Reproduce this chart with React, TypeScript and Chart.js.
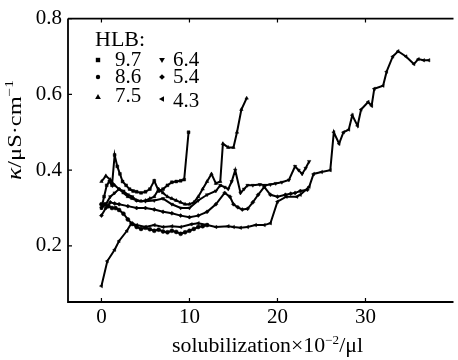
import React, { useEffect, useRef } from "react";
import { Chart, registerables } from "chart.js";

Chart.register(...registerables);

// ---- data ----
const xTickValues = [0, 10, 20, 30];
const yTickValues = [0.2, 0.4, 0.6, 0.8];
const hlbLabels = ["9.7", "8.6", "7.5", "6.4", "5.4", "4.3"];

const hlb97X = [0, 0.3, 0.6, 0.9, 1.2, 1.5, 1.8, 2.1, 2.4, 2.8, 3.2, 3.6, 4.0, 4.5, 5.0, 5.5, 6.0, 6.5, 7.0, 7.5, 8.0, 8.5, 9.0, 9.4, 9.9];
const hlb97Y = [0.30, 0.33, 0.36, 0.37, 0.36, 0.44, 0.41, 0.39, 0.37, 0.36, 0.35, 0.345, 0.343, 0.34, 0.343, 0.35, 0.372, 0.345, 0.35, 0.36, 0.368, 0.37, 0.372, 0.375, 0.50];

const hlb86X = [0, 0.4, 0.8, 1.2, 1.6, 2.0, 2.5, 3.0, 3.5, 4.0, 4.5, 5.0, 5.5, 6.0, 6.5, 7.0, 7.5, 8.0, 8.5, 9.0, 9.5, 10.0, 10.5, 11.0, 11.5, 12.0];
const hlb86Y = [0.31, 0.31, 0.305, 0.30, 0.30, 0.295, 0.285, 0.27, 0.258, 0.25, 0.245, 0.248, 0.244, 0.24, 0.243, 0.238, 0.236, 0.24, 0.237, 0.232, 0.236, 0.24, 0.245, 0.25, 0.252, 0.255];

const hlb75X = [0, 0.5, 1.0, 1.5, 2.0, 2.5, 3.0, 3.5, 4.0, 4.5, 5.0, 5.5, 6.0, 6.5, 7.0, 7.5, 8.0, 8.5, 9.0, 9.5, 10.0, 10.5, 11.0, 11.5, 12.0, 12.5, 13.0, 13.5, 13.8, 14.4, 15.0, 15.4, 15.9, 16.5];
const hlb75Y = [0.37, 0.385, 0.375, 0.36, 0.35, 0.34, 0.33, 0.325, 0.32, 0.318, 0.32, 0.325, 0.33, 0.35, 0.34, 0.33, 0.325, 0.32, 0.315, 0.31, 0.31, 0.315, 0.33, 0.35, 0.37, 0.39, 0.365, 0.37, 0.47, 0.46, 0.46, 0.50, 0.56, 0.59];

const hlb64X = [0, 0.5, 1.0, 1.5, 2.0, 2.5, 3.0, 3.5, 4.0, 5.0, 6.0, 7.0, 8.0, 9.0, 10.0, 11.0, 12.0, 13.0, 13.5, 14.0, 14.4, 14.8, 15.2, 15.8, 16.2, 16.6, 17.2, 18.0, 18.6, 19.2, 19.8, 20.5, 21.3, 22.0, 22.4, 22.8, 23.2, 23.6];
const hlb64Y = [0.30, 0.31, 0.33, 0.34, 0.35, 0.345, 0.335, 0.33, 0.32, 0.318, 0.32, 0.325, 0.31, 0.30, 0.30, 0.32, 0.335, 0.345, 0.36, 0.355, 0.35, 0.37, 0.40, 0.34, 0.35, 0.36, 0.36, 0.362, 0.36, 0.362, 0.365, 0.368, 0.374, 0.41, 0.40, 0.39, 0.405, 0.423];

const hlb54X = [0, 0.5, 1.0, 1.5, 2.0, 3.0, 4.0, 5.0, 6.0, 7.0, 8.0, 9.0, 10.0, 11.0, 12.0, 13.0, 14.0, 14.6, 15.0, 15.5, 16.0, 16.6, 17.2, 17.8, 18.5, 19.2, 20.0, 20.9, 21.5, 22.0, 22.6, 23.4];
const hlb54Y = [0.28, 0.30, 0.315, 0.312, 0.31, 0.305, 0.30, 0.30, 0.296, 0.29, 0.286, 0.28, 0.276, 0.28, 0.29, 0.31, 0.34, 0.33, 0.31, 0.302, 0.296, 0.298, 0.315, 0.335, 0.356, 0.335, 0.33, 0.335, 0.338, 0.34, 0.345, 0.348];

const hlb43X = [0, 0.67, 1.5, 2.0, 2.9, 3.4, 4.0, 5.0, 6.0, 7.0, 8.0, 9.0, 10.2, 11.0, 12.0, 13.0, 14.4, 15.0, 15.8, 16.6, 17.5, 18.5, 19.2, 20.0, 21.0, 22.2, 22.6, 23.6, 24.1, 25.0, 26.0, 26.4, 27.0, 27.5, 28.1, 28.5, 29.1, 29.5, 30.3, 30.7, 31.0, 32.0, 32.4, 33.1, 33.7, 34.6, 35.5, 36.0, 36.6, 37.2];
const hlb43Y = [0.094, 0.16, 0.19, 0.213, 0.24, 0.26, 0.255, 0.25, 0.255, 0.25, 0.252, 0.25, 0.257, 0.26, 0.255, 0.25, 0.252, 0.25, 0.248, 0.25, 0.255, 0.255, 0.26, 0.317, 0.33, 0.33, 0.335, 0.356, 0.39, 0.395, 0.40, 0.50, 0.47, 0.50, 0.507, 0.545, 0.517, 0.56, 0.58, 0.57, 0.615, 0.623, 0.66, 0.70, 0.714, 0.70, 0.68, 0.693, 0.69, 0.69];

const seriesX = [hlb97X, hlb86X, hlb75X, hlb64X, hlb54X, hlb43X];
const seriesY = [hlb97Y, hlb86Y, hlb75Y, hlb64Y, hlb54Y, hlb43Y];

// ---- styles ----
const markerStyles = ["rect", "circle", "triangle", "triangle", "rectRot", "triangle"];
const markerRotations = [0, 0, 0, 180, 0, -90];
const serif = "'Liberation Serif', 'Times New Roman', serif";

function drawMarker(ctx: CanvasRenderingContext2D, style: string, rot: number, x: number, y: number, r: number) {
  ctx.save();
  ctx.translate(x, y);
  ctx.rotate((rot * Math.PI) / 180);
  ctx.beginPath();
  if (style === "rect") {
    ctx.rect(-r, -r, 2 * r, 2 * r);
  } else if (style === "circle") {
    ctx.arc(0, 0, r, 0, Math.PI * 2);
  } else if (style === "rectRot") {
    ctx.moveTo(0, -r * 1.3);
    ctx.lineTo(r * 1.3, 0);
    ctx.lineTo(0, r * 1.3);
    ctx.lineTo(-r * 1.3, 0);
    ctx.closePath();
  } else {
    ctx.moveTo(0, -r * 1.4);
    ctx.lineTo(r * 1.3, r * 0.9);
    ctx.lineTo(-r * 1.3, r * 0.9);
    ctx.closePath();
  }
  ctx.fillStyle = "#000";
  ctx.fill();
  ctx.restore();
}

function drawScaledText(
  ctx: CanvasRenderingContext2D,
  parts: { text: string; size: number; rise: number; italic?: boolean }[],
  targetWidth: number
) {
  let total = 0;
  const widths: number[] = [];
  for (const p of parts) {
    ctx.font = `${p.italic ? "italic " : ""}${p.size}px ${serif}`;
    const w = ctx.measureText(p.text).width;
    widths.push(w);
    total += w;
  }
  const sx = targetWidth / total;
  ctx.save();
  ctx.scale(sx, 1);
  let x = -total / 2;
  parts.forEach((p, i) => {
    ctx.font = `${p.italic ? "italic " : ""}${p.size}px ${serif}`;
    ctx.fillText(p.text, x, -p.rise);
    x += widths[i];
  });
  ctx.restore();
}

const decorPlugin = {
  id: "decor",
  afterDraw(chart: any) {
    const ctx: CanvasRenderingContext2D = chart.ctx;
    const a = chart.chartArea;
    const xs = chart.scales.x;
    const ys = chart.scales.y;
    ctx.save();
    ctx.strokeStyle = "#000";
    ctx.lineWidth = 1.8;
    ctx.beginPath();
    ctx.moveTo(a.left, a.top);
    ctx.lineTo(a.left, a.bottom);
    ctx.lineTo(a.right, a.bottom);
    ctx.moveTo(a.left, a.top);
    ctx.lineTo(a.right, a.top);
    ctx.stroke();
    ctx.lineWidth = 1.2;
    ctx.beginPath();
    for (const v of xTickValues) {
      const px = xs.getPixelForValue(v);
      ctx.moveTo(px, a.bottom);
      ctx.lineTo(px, a.bottom - 4);
      ctx.moveTo(px, a.top);
      ctx.lineTo(px, a.top + 4);
    }
    for (const v of yTickValues) {
      const py = ys.getPixelForValue(v);
      ctx.moveTo(a.left, py);
      ctx.lineTo(a.left + 4, py);
    }
    ctx.stroke();

    // legend
    ctx.fillStyle = "#000";
    ctx.textAlign = "left";
    ctx.textBaseline = "alphabetic";
    ctx.font = `22px ${serif}`;
    ctx.fillText("HLB:", 95, 46);
    const markerX = [98, 162];
    const markerY = [[60, 77, 97], [60, 77, 99]];
    const textX = [115, 173];
    const textBase = [[66, 83, 102], [66, 83, 107]];
    hlbLabels.forEach((lab, i) => {
      const col = i < 3 ? 0 : 1;
      const row = i % 3;
      drawMarker(ctx, markerStyles[i], markerRotations[i], markerX[col], markerY[col][row], 2.2);
      ctx.font = `21px ${serif}`;
      ctx.fillText(lab, textX[col], textBase[col][row]);
    });

    // x title
    ctx.save();
    ctx.translate(267.5, 352);
    ctx.textAlign = "left";
    drawScaledText(
      ctx,
      [
        { text: "solubilization×10", size: 20, rise: 0 },
        { text: "−2", size: 12, rise: 8 },
        { text: "/μl", size: 20, rise: 0 },
      ],
      191
    );
    ctx.restore();

    // y title
    ctx.save();
    ctx.translate(21, 130);
    ctx.rotate(-Math.PI / 2);
    drawScaledText(
      ctx,
      [
        { text: "κ", size: 20, rise: 0, italic: true },
        { text: "/μS·cm", size: 19, rise: 0 },
        { text: "−1", size: 12, rise: 8 },
      ],
      100
    );
    ctx.restore();
    ctx.restore();
  },
};

export default function App() {
  const ref = useRef<HTMLCanvasElement | null>(null);
  useEffect(() => {
    if (!ref.current) return;
    const datasets = seriesX.map((xs, i) => ({
      label: hlbLabels[i],
      data: xs.map((x, j) => ({ x, y: seriesY[i][j] })),
      borderColor: "#000",
      backgroundColor: "#000",
      borderWidth: 2,
      pointStyle: markerStyles[i] as any,
      rotation: markerRotations[i],
      pointRadius: 2,
      pointBorderWidth: 0.5,
      tension: 0,
      fill: false,
    }));
    const chart = new Chart(ref.current, {
      type: "line",
      data: { datasets },
      options: {
        animation: false,
        responsive: false,
        devicePixelRatio: 1,
        layout: { padding: { top: 13, right: 0, left: 0, bottom: 0 } },
        plugins: { legend: { display: false }, tooltip: { enabled: false } },
        scales: {
          x: {
            type: "linear",
            min: -3.8,
            max: 40,
            grid: { display: false, drawTicks: false },
            border: { display: false },
            afterBuildTicks: (s: any) => {
              s.ticks = xTickValues.map((v) => ({ value: v }));
            },
            afterFit: (s: any) => {
              s.height = 58;
            },
            ticks: {
              color: "#000",
              padding: 3,
              maxRotation: 0,
              font: { family: serif, size: 21 },
              callback: (v: any) => String(v),
            },
          },
          y: {
            type: "linear",
            min: 0.052,
            max: 0.8,
            grid: { display: false, drawTicks: false },
            border: { display: false },
            afterBuildTicks: (s: any) => {
              s.ticks = yTickValues.map((v) => ({ value: v }));
            },
            afterFit: (s: any) => {
              s.width = 68;
            },
            ticks: {
              color: "#000",
              padding: 6,
              font: { family: serif, size: 21 },
              callback: (v: any) => Number(v).toFixed(1),
            },
          },
        },
      },
      plugins: [decorPlugin],
    });
    return () => chart.destroy();
  }, []);
  return (
    <div style={{ position: "absolute", left: 0, top: 0, width: 458, height: 360, background: "#fff" }}>
      <canvas ref={ref} width={458} height={360} />
    </div>
  );
}
